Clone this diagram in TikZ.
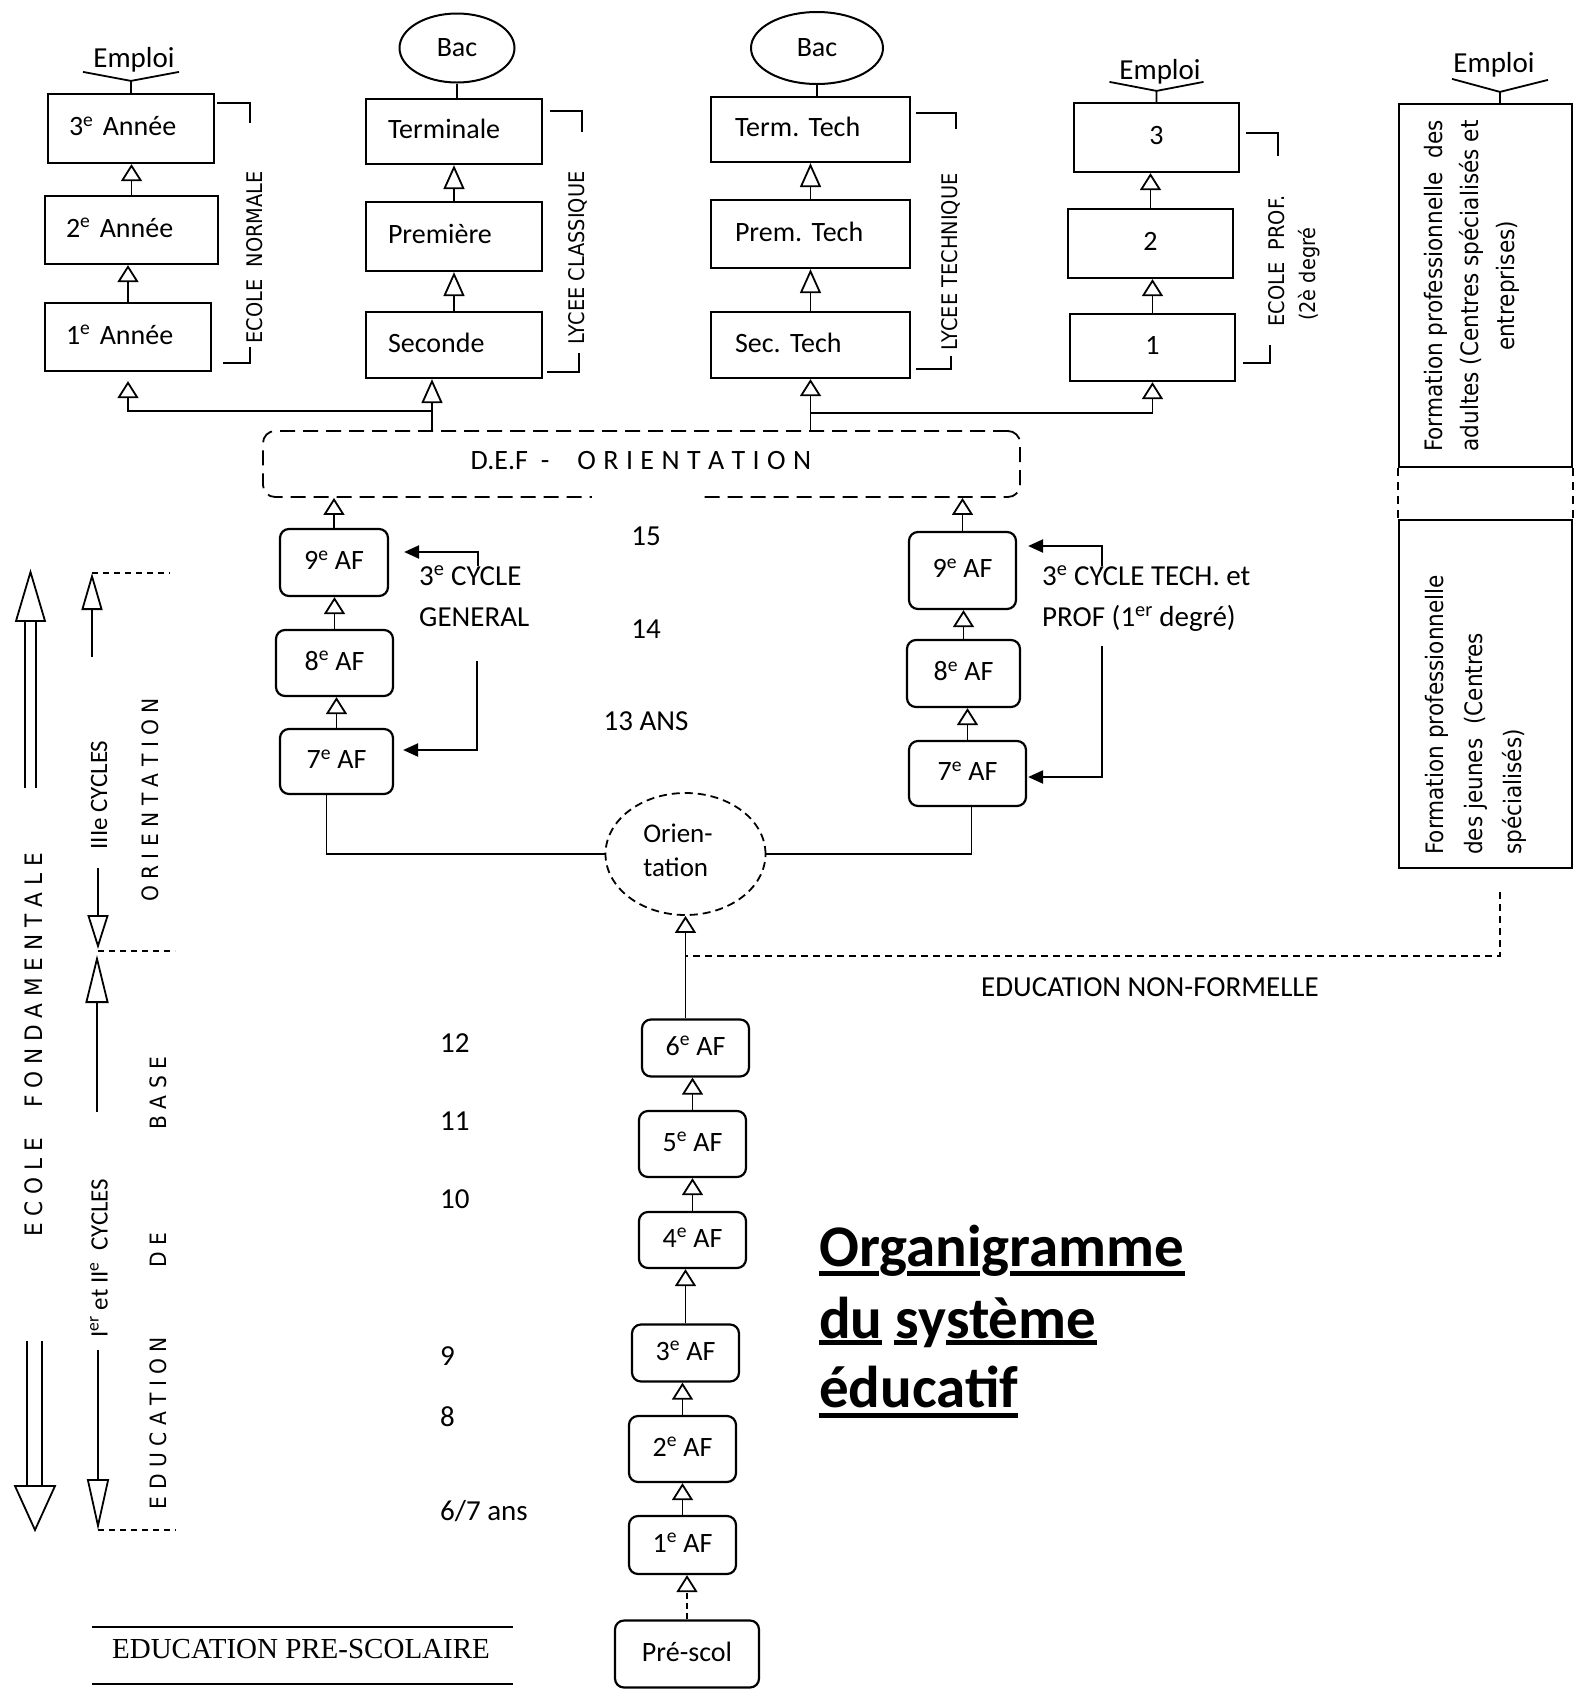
\documentclass[tikz,border=0pt]{standalone}
\usepackage{fontspec}
\setmainfont{Carlito}
\newfontfamily\vfont[FakeStretch=0.9]{DejaVu Sans}
\newfontfamily\tfont{Liberation Serif}
\usetikzlibrary{arrows.meta,shapes.geometric,calc}
\newcommand\fsz[2]{\fontsize{#1}{#2}\selectfont}
\frenchspacing
\tikzset{
  lw/.style={line width=1.8pt},
  box/.style={draw, line width=2.2pt, inner sep=0pt, text height=20pt, text depth=6pt, font=\fsz{28}{34}},
  lbox/.style={box, align=left},
  rbox/.style={box, rounded corners=9pt, align=center},
  uparr/.style={lw, -{Triangle[open, length=17pt, width=21pt]}},
  uplong/.style={lw, -{Triangle[open, length=24pt, width=21pt]}},
  farrow/.style={line width=2.2pt, -{Triangle[length=15pt, width=13pt]}},
  vlab/.style={rotate=90, inner sep=0pt, font=\vfont\fsz{21.5}{26}},
  lab/.style={inner sep=0pt, text height=20pt, text depth=6pt, font=\fsz{29}{35}},
  ddash/.style={lw, dash pattern=on 6pt off 5pt},
  oval/.style={ellipse, draw, line width=2pt, inner sep=0pt, font=\fsz{28}{34}},
}
\begin{document}
\begin{tikzpicture}[x=1pt,y=-1pt]
\useasboundingbox (0,0) rectangle (1583,1701);

% ---------- Ecole normale ----------
\node[lbox, inner xsep=21pt, text width=124pt, minimum height=69pt] (an3) at (131,128.5) {3\textsuperscript{e} Année};
\node[lbox, inner xsep=21pt, text width=131pt, minimum height=68pt] (an2) at (131.5,230) {2\textsuperscript{e} Année};
\node[lbox, inner xsep=21pt, text width=124pt, minimum height=68pt] (an1) at (128,337) {1\textsuperscript{e} Année};
\draw[uparr] (an2.north) -- (an2.north |- an3.south);
\draw[uparr] (an1.north) -- (an1.north |- an2.south);
\node[lab] (em1) at (134,60) {Emploi};
\draw[lw] (an3.north) -- ++(0,-12) coordinate (h1) -- ++(-48,-9) (h1) -- ++(48,-9);
\draw[lw] (217,103) -- (250,103) -- (250,123);
\draw[lw] (223,363) -- (250,363) -- (250,347);
\node[vlab] (enl) at (255,257.5) {ECOLE\ \ NORMALE};

% ---------- Lycee classique ----------
\node[oval, minimum width=115pt, minimum height=69pt] (bac1) at (457,48) {Bac};
\node[lbox, inner xsep=22pt, text width=132pt, minimum height=65pt] (term) at (454,131.5) {Terminale};
\node[lbox, inner xsep=22pt, text width=132pt, minimum height=69pt] (prem) at (454,236.5) {Première};
\node[lbox, inner xsep=22pt, text width=132pt, minimum height=66pt] (sec) at (454,345) {Seconde};
\draw[lw] (bac1.south) -- (bac1.south |- term.north);
\draw[uplong] (prem.north) -- (prem.north |- term.south);
\draw[uplong] (sec.north) -- (sec.north |- prem.south);
\draw[lw] (550,111) -- (582,111) -- (582,132);
\draw[lw] (547,372) -- (579,372) -- (579,353);
\node[vlab] (lcl) at (578,258) {LYCEE CLASSIQUE};

% ---------- Lycee technique ----------
\node[oval, minimum width=132pt, minimum height=72pt] (bac2) at (817,48) {Bac};
\node[lbox, inner xsep=24pt, text width=151pt, minimum height=65pt] (termt) at (810.5,129.5) {Term. Tech};
\node[lbox, inner xsep=24pt, text width=151pt, minimum height=68pt] (premt) at (810.5,234) {Prem. Tech};
\node[lbox, inner xsep=24pt, text width=151pt, minimum height=66pt] (sect) at (810.5,345) {Sec. Tech};
\draw[lw] (bac2.south) -- (bac2.south |- termt.north);
\draw[uplong] (premt.north) -- (premt.north |- termt.south);
\draw[uplong] (sect.north) -- (sect.north |- premt.south);
\draw[lw] (916,113) -- (956,113) -- (956,129);
\draw[lw] (916,369) -- (951,369) -- (951,356);
\node[vlab] (ltc) at (951,262) {LYCEE TECHNIQUE};

% ---------- Ecole prof ----------
\node[box, minimum width=165pt, minimum height=69pt] (p3) at (1156.5,137.5) {3};
\node[box, minimum width=165pt, minimum height=69pt] (p2) at (1150.5,243.5) {2};
\node[box, minimum width=165pt, minimum height=67pt] (p1) at (1152.5,347.5) {1};
\draw[uparr] (p2.north) -- (p2.north |- p3.south);
\draw[uparr] (p1.north) -- (p1.north |- p2.south);
\node[lab] (em2) at (1160,72) {Emploi};
\draw[lw] (p3.north) -- ++(0,-11) coordinate (h2) -- ++(-47,-9) (h2) -- ++(47,-9);
\draw[lw] (1246,133) -- (1278,133) -- (1278,156);
\draw[lw] (1243,363) -- (1270,363) -- (1270,345);
\node[vlab] (ep1) at (1277,261) {ECOLE\ \ PROF.};
\node[vlab] (ep2) at (1309,274) {(2è degré};

% ---------- Formation professionnelle ----------
\node[draw, line width=2.2pt, minimum width=173pt, minimum height=363pt, inner sep=0pt] (fa) at (1485.5,285.5) {};
\node[draw, line width=2.2pt, minimum width=173pt, minimum height=348pt, inner sep=0pt] (fj) at (1485.5,694) {};
\node[rotate=90, align=center, inner sep=0pt, font=\vfont\fsz{24}{36}] (fat) at (1472,286) {Formation professionnelle\ \ des\\adultes (Centres spécialisés et\\entreprises)};
\node[rotate=90, align=left, anchor=west, inner sep=0pt, font=\vfont\fsz{24}{39}] (fjt) at (1476,855) {Formation professionnelle\\des jeunes\ \ (Centres\\spécialisés)};
\node[lab] (em3) at (1494,65) {Emploi};
\draw[lw] ($(fa.north)+(14.5,0)$) -- ++(0,-11) coordinate (h3) -- ++(-48,-13) (h3) -- ++(48,-12);
\draw[lw, dash pattern=on 8pt off 6pt] (fa.south west) -- (fj.north west);
\draw[lw, dash pattern=on 8pt off 6pt] (fa.south east) -- (fj.north east);

% ---------- DEF ----------
\node[draw, lw, dash pattern=on 15pt off 8pt, rounded corners=12pt, minimum width=757pt, minimum height=66pt, inner sep=0pt] (def) at (641.5,464) {};
\fill[white] (592,488) rectangle (704,508);
\node[lab, font=\fsz{28}{34}] (deft) at (641,462) {\spaceskip=7.4pt\relax D.E.F\hspace{13pt}-\hspace{28pt}O R I E N T A T I O N};
\coordinate (j1) at (432,411);
\draw[uplong] (j1 |- def.north) -- (j1 |- sec.south);
\draw[uparr] (j1) -| ($(an1.south)+(0,9)$);
\coordinate (j2) at (810.5,413);
\draw[uparr] (j2 |- def.north) -- (j2 |- sect.south);
\draw[uparr] (j2) -| (p1.south);

% ---------- 3e cycle general ----------
\node[rbox, minimum width=108pt, minimum height=67pt] (af9l) at (334,562.5) {9\textsuperscript{e} AF};
\node[rbox, minimum width=117pt, minimum height=66pt] (af8l) at (334.5,663) {8\textsuperscript{e} AF};
\node[rbox, minimum width=113pt, minimum height=65pt] (af7l) at (336.5,761.5) {7\textsuperscript{e} AF};
\draw[uparr] (af9l.north) -- (af9l.north |- def.south);
\draw[uparr] (af8l.north) -- (af8l.north |- af9l.south);
\draw[uparr] (af7l.north) -- (af7l.north |- af8l.south);
\node[lab, anchor=west] (c3g1) at (419,578) {3\textsuperscript{e} CYCLE};
\node[lab, anchor=west] (c3g2) at (419,619) {GENERAL};
\coordinate (g1) at (478,566);
\draw[farrow] (g1) |- ($(af9l.east)+(15,-10.5)$);
\coordinate (g2) at (477,661);
\draw[farrow] (g2) |- ($(af7l.east)+(9,-11.5)$);

% ---------- 3e cycle tech ----------
\node[rbox, minimum width=107pt, minimum height=77pt] (af9r) at (962.5,570.5) {9\textsuperscript{e} AF};
\node[rbox, minimum width=113pt, minimum height=67pt] (af8r) at (963.5,673.5) {8\textsuperscript{e} AF};
\node[rbox, minimum width=117pt, minimum height=65pt] (af7r) at (967.5,773.5) {7\textsuperscript{e} AF};
\draw[uparr] (af9r.north) -- (af9r.north |- def.south);
\draw[uparr] (af8r.north) -- (af8r.north |- af9r.south);
\draw[uparr] (af7r.north) -- (af7r.north |- af8r.south);
\node[lab, anchor=west] (c3t1) at (1042,578) {3\textsuperscript{e} CYCLE TECH. et};
\node[lab, anchor=west] (c3t2) at (1042,619) {PROF (1\textsuperscript{er} degré)};
\coordinate (t1) at (1102,566);
\draw[farrow] (t1) |- ($(af9r.east)+(11,-24.5)$);
\coordinate (t2) at (1102,646);
\draw[farrow] (t2) |- ($(af7r.east)+(1,3.5)$);

% ---------- ages ----------
\node[lab] (a15) at (646,538) {15};
\node[lab] (a14) at (646,631) {14};
\node[lab] (a13) at (646,723) {13 ANS};

% ---------- Orientation ----------
\node[ellipse, draw, lw, dash pattern=on 8pt off 5pt, minimum width=160pt, minimum height=122pt, inner sep=0pt] (ori) at (685.5,854) {};
\node[align=left, inner sep=0pt, font=\fsz{27}{34}] (orit) at (678,850) {Orien-\\tation};
\draw[lw] ($(af7l.south)+(-10,0)$) |- (ori.west);
\draw[lw] ($(af7r.south)+(4,0)$) |- (ori.east);

% ---------- fundamental ----------
\node[rbox, minimum width=107pt, minimum height=57pt] (af6) at (695.5,1048) {6\textsuperscript{e} AF};
\node[rbox, minimum width=107pt, minimum height=66pt] (af5) at (692.5,1144) {5\textsuperscript{e} AF};
\node[rbox, minimum width=107pt, minimum height=56pt] (af4) at (692.5,1240) {4\textsuperscript{e} AF};
\node[rbox, minimum width=107pt, minimum height=57pt] (af3) at (685.5,1353) {3\textsuperscript{e} AF};
\node[rbox, minimum width=107pt, minimum height=66pt] (af2) at (682.5,1449) {2\textsuperscript{e} AF};
\node[rbox, minimum width=107pt, minimum height=58pt] (af1) at (682.5,1545) {1\textsuperscript{e} AF};
\node[rbox, minimum width=144pt, minimum height=67pt] (pre) at (687,1654) {Pré-scol};
\draw[uparr] (ori.south |- af6.north) -- (ori.south);
\draw[uparr] (af5.north) -- (af5.north |- af6.south);
\draw[uparr] (af4.north) -- (af4.north |- af5.south);
\draw[uparr] (af3.north) -- (af3.north |- af4.south);
\draw[uparr] (af2.north) -- (af2.north |- af3.south);
\draw[uparr] (af1.north) -- (af1.north |- af2.south);
\draw[uparr, dash pattern=on 6pt off 4pt] (pre.north) -- (pre.north |- af1.south);

% non-formelle
\coordinate (nf1) at (1500,892);
\coordinate (nf2) at (685.5,956);
\draw[lw, dash pattern=on 7pt off 5pt] (nf1) |- (nf2);
\node[lab] (enf) at (1150,989) {EDUCATION NON-FORMELLE};

% ---------- left ages ----------
\node[lab, anchor=west] (a12) at (440,1045) {12};
\node[lab, anchor=west] (a11) at (440,1123) {11};
\node[lab, anchor=west] (a10) at (440,1201) {10};
\node[lab, anchor=west] (a9) at (440,1358) {9};
\node[lab, anchor=west] (a8) at (440,1419) {8};
\node[lab, anchor=west] (a67) at (440,1513) {6/7 ans};

% ---------- left arrows ----------
\draw[lw] (25,621) -- (25,788);
\draw[lw] (36,621) -- (36,788);
\draw[lw, line join=miter] (30.5,572) -- (16,621) -- (45,621) -- cycle;
\draw[lw] (27,1341) -- (27,1486);
\draw[lw] (42,1341) -- (42,1486);
\draw[lw, line join=miter] (35,1530) -- (15,1486) -- (55,1486) -- cycle;
\draw[lw, -{Triangle[open,length=37pt,width=21pt]}] (92,657) -- (92,573);
\draw[ddash] (92,573) -- (170,573);
\draw[lw, -{Triangle[open,length=34pt,width=21pt]}] (98,868) -- (98,949);
\draw[ddash] (98,951) -- (175,951);
\draw[lw, -{Triangle[open,length=48pt,width=23pt]}] (97,1112) -- (97,955);
\draw[lw, -{Triangle[open,length=51pt,width=22pt]}] (98,1350) -- (98,1530);
\draw[ddash] (98,1530) -- (176,1530);

\node[rotate=90, inner sep=0pt, font=\fsz{25}{30}] (l3c) at (99,795) {IIIe CYCLES};
\node[rotate=90, inner sep=0pt, font=\fsz{25}{30}] (l12c) at (99,1258) {I\textsuperscript{er} et II\textsuperscript{e}\ \ CYCLES};
\node[rotate=90, inner sep=0pt, font=\vfont\fsz{22.5}{27}] (lor) at (150,800) {O R I E N T A T I O N};
\node[rotate=90, inner sep=0pt, font=\vfont\fsz{22.5}{27}] (lba) at (158,1093) {B A S E};
\node[rotate=90, inner sep=0pt, font=\vfont\fsz{22.5}{27}] (lde) at (158,1250) {D E};
\node[rotate=90, inner sep=0pt, font=\vfont\fsz{22.5}{27}] (led) at (158,1423) {E D U C A T I O N};
\node[rotate=90, inner sep=0pt, font=\vfont\fsz{24}{29}] (lef) at (34,1045) {E C O L E\hspace{30pt}F O N D A M E N T A L E};

% ---------- pre-scolaire ----------
\draw[lw] (92,1627) -- (513,1627);
\draw[lw] (92,1684) -- (513,1684);
\node[inner sep=0pt, font=\tfont\fsz{29}{35}] (eps) at (301,1649) {EDUCATION PRE-SCOLAIRE};

% ---------- title ----------
\node[anchor=base west, inner sep=0pt, font=\bfseries\fsz{59}{72}] (tt1) at (819,1266) {Organigramme};
\node[anchor=base west, inner sep=0pt, font=\bfseries\fsz{59}{72}] (tt2) at (819,1338) {du système};
\node[anchor=base west, inner sep=0pt, font=\bfseries\fsz{59}{72}] (tt3) at (819,1407) {éducatif};
\fill (819,1271) rectangle (879,1276);
\fill (907,1271) rectangle (980,1276);
\fill (1010,1271) rectangle (1185,1276);
\fill (819,1340) rectangle (882,1345);
\fill (894,1340) rectangle (917,1345);
\fill (946,1340) rectangle (1097,1345);
\fill (819,1413) rectangle (1018,1418);
\end{tikzpicture}
\end{document}
